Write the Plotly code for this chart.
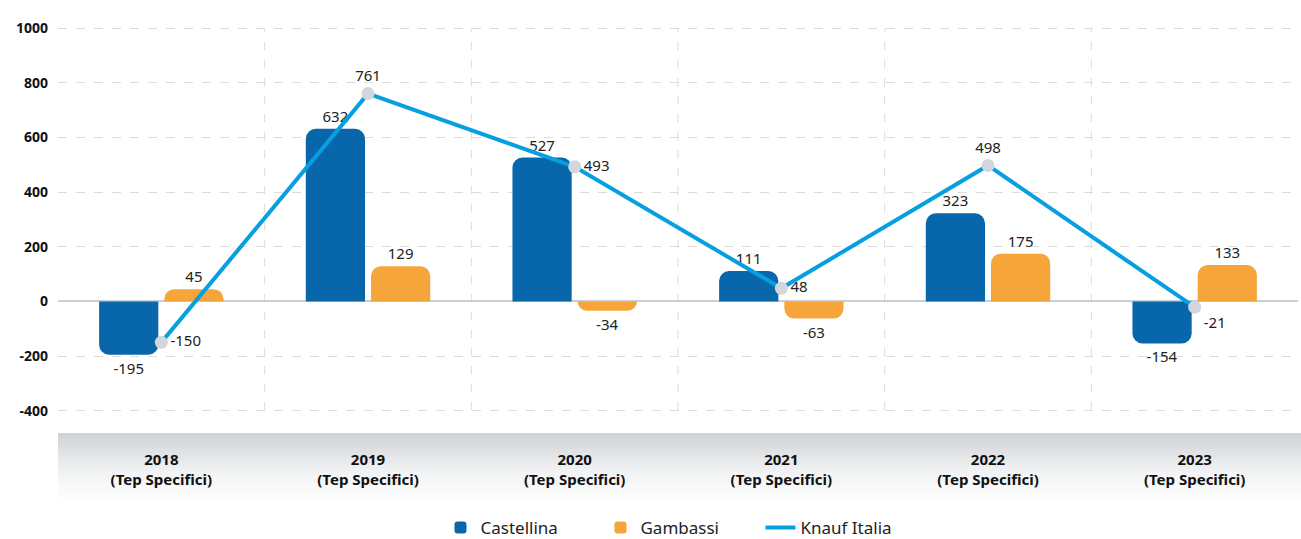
import base64
import plotly.graph_objects as go

years = ["2018", "2019", "2020", "2021", "2022", "2023"]
tick_labels = ["<b>%s</b><br><b>(Tep Specifici)</b>" % y for y in years]
castellina = [-195, 632, 527, 111, 323, -154]
gambassi = [45, 129, -34, -63, 175, 133]
knauf = [-150, 761, 493, 48, 498, -21]
knauf_text_pos = ["middle right", "top center", "middle right", "middle right", "top center", "bottom right"]
y_ticks = [-400, -200, 0, 200, 400, 600, 800, 1000]
y_tick_labels = ["<b>%d</b>" % v for v in y_ticks]

FONT = "Noto Sans"
TXT = "#222222"

fig = go.Figure()
fig.add_trace(go.Bar(
    name="Castellina", x=years, y=castellina,
    text=[str(v) for v in castellina], textposition="outside",
    textfont=dict(family=FONT, size=15, color=TXT),
    marker=dict(color="#0866ab", cornerradius=10, line=dict(width=0)),
    cliponaxis=False,
))
fig.add_trace(go.Bar(
    name="Gambassi", x=years, y=gambassi,
    text=[str(v) for v in gambassi], textposition="outside",
    textfont=dict(family=FONT, size=15, color=TXT),
    marker=dict(color="#f6a53a", cornerradius=10, line=dict(width=0)),
    cliponaxis=False,
))
fig.add_trace(go.Scatter(
    name="Knauf Italia", x=years, y=knauf, mode="lines",
    line=dict(color="#069fe0", width=4),
    cliponaxis=False,
))
fig.add_trace(go.Scatter(
    name="Knauf Italia", x=years, y=knauf, mode="markers+text", showlegend=False,
    text=[str(v) for v in knauf], textposition=knauf_text_pos,
    textfont=dict(family=FONT, size=15, color=TXT),
    marker=dict(color="#d3d6da", size=13, line=dict(width=0)),
    cliponaxis=False,
))

# vertical dashed separators between categories
for i in range(len(years) - 1):
    fig.add_shape(type="line", xref="x", yref="y", x0=i + 0.5, x1=i + 0.5,
                  y0=y_ticks[0], y1=y_ticks[-1], layer="below",
                  line=dict(color="#dcdcdc", width=1, dash="dash"))

svg = ("<svg xmlns='http://www.w3.org/2000/svg' width='100' height='100' viewBox='0 0 100 100' "
       "preserveAspectRatio='none'><defs><linearGradient id='g' x1='0' y1='0' x2='0' y2='1'>"
       "<stop offset='0' stop-color='#cfd2d6'/><stop offset='0.55' stop-color='#f2f3f4'/>"
       "<stop offset='1' stop-color='#ffffff'/></linearGradient></defs>"
       "<rect width='100' height='100' fill='url(#g)'/></svg>")
src = "data:image/svg+xml;base64," + base64.b64encode(svg.encode()).decode()

plot_h = 384.0
fig.add_layout_image(dict(source=src, xref="paper", yref="paper",
                          x=0, y=(412 - 433) / plot_h, sizex=(1301 - 58) / 1240.0,
                          sizey=72 / plot_h, xanchor="left", yanchor="top",
                          sizing="stretch", layer="below"))

fig.update_layout(
    width=1301, height=539,
    margin=dict(l=58, r=3, t=27, b=127, autoexpand=False),
    paper_bgcolor="white", plot_bgcolor="white",
    barmode="group", bargap=0.369, bargroupgap=0.092,
    font=dict(family=FONT, color=TXT),
    showlegend=True,
    legend=dict(orientation="h", x=0.502, xanchor="center", yref="container",
                y=(539 - 528) / 539.0, yanchor="middle",
                font=dict(family=FONT, size=17, color=TXT),
                entrywidth=115, entrywidthmode="pixels", traceorder="normal"),
    xaxis=dict(type="category", tickmode="array", tickvals=years, ticktext=tick_labels,
               showgrid=False, showline=False, ticks="", ticklabelstandoff=37,
               tickfont=dict(family=FONT, size=15, color="#111111")),
    yaxis=dict(range=[-405, 1005], tickmode="array", tickvals=y_ticks, ticktext=y_tick_labels,
               showgrid=True, gridcolor="#dcdcdc",
               griddash="dash", gridwidth=1, zeroline=True, zerolinecolor="#c9ced6",
               zerolinewidth=1.5, showline=False, ticks="", ticklabelstandoff=9,
               tickfont=dict(family=FONT, size=14, color="#111111")),
)

fig.write_html("out.html", config={"displayModeBar": False},
               post_script="document.body.style.margin='0';")
